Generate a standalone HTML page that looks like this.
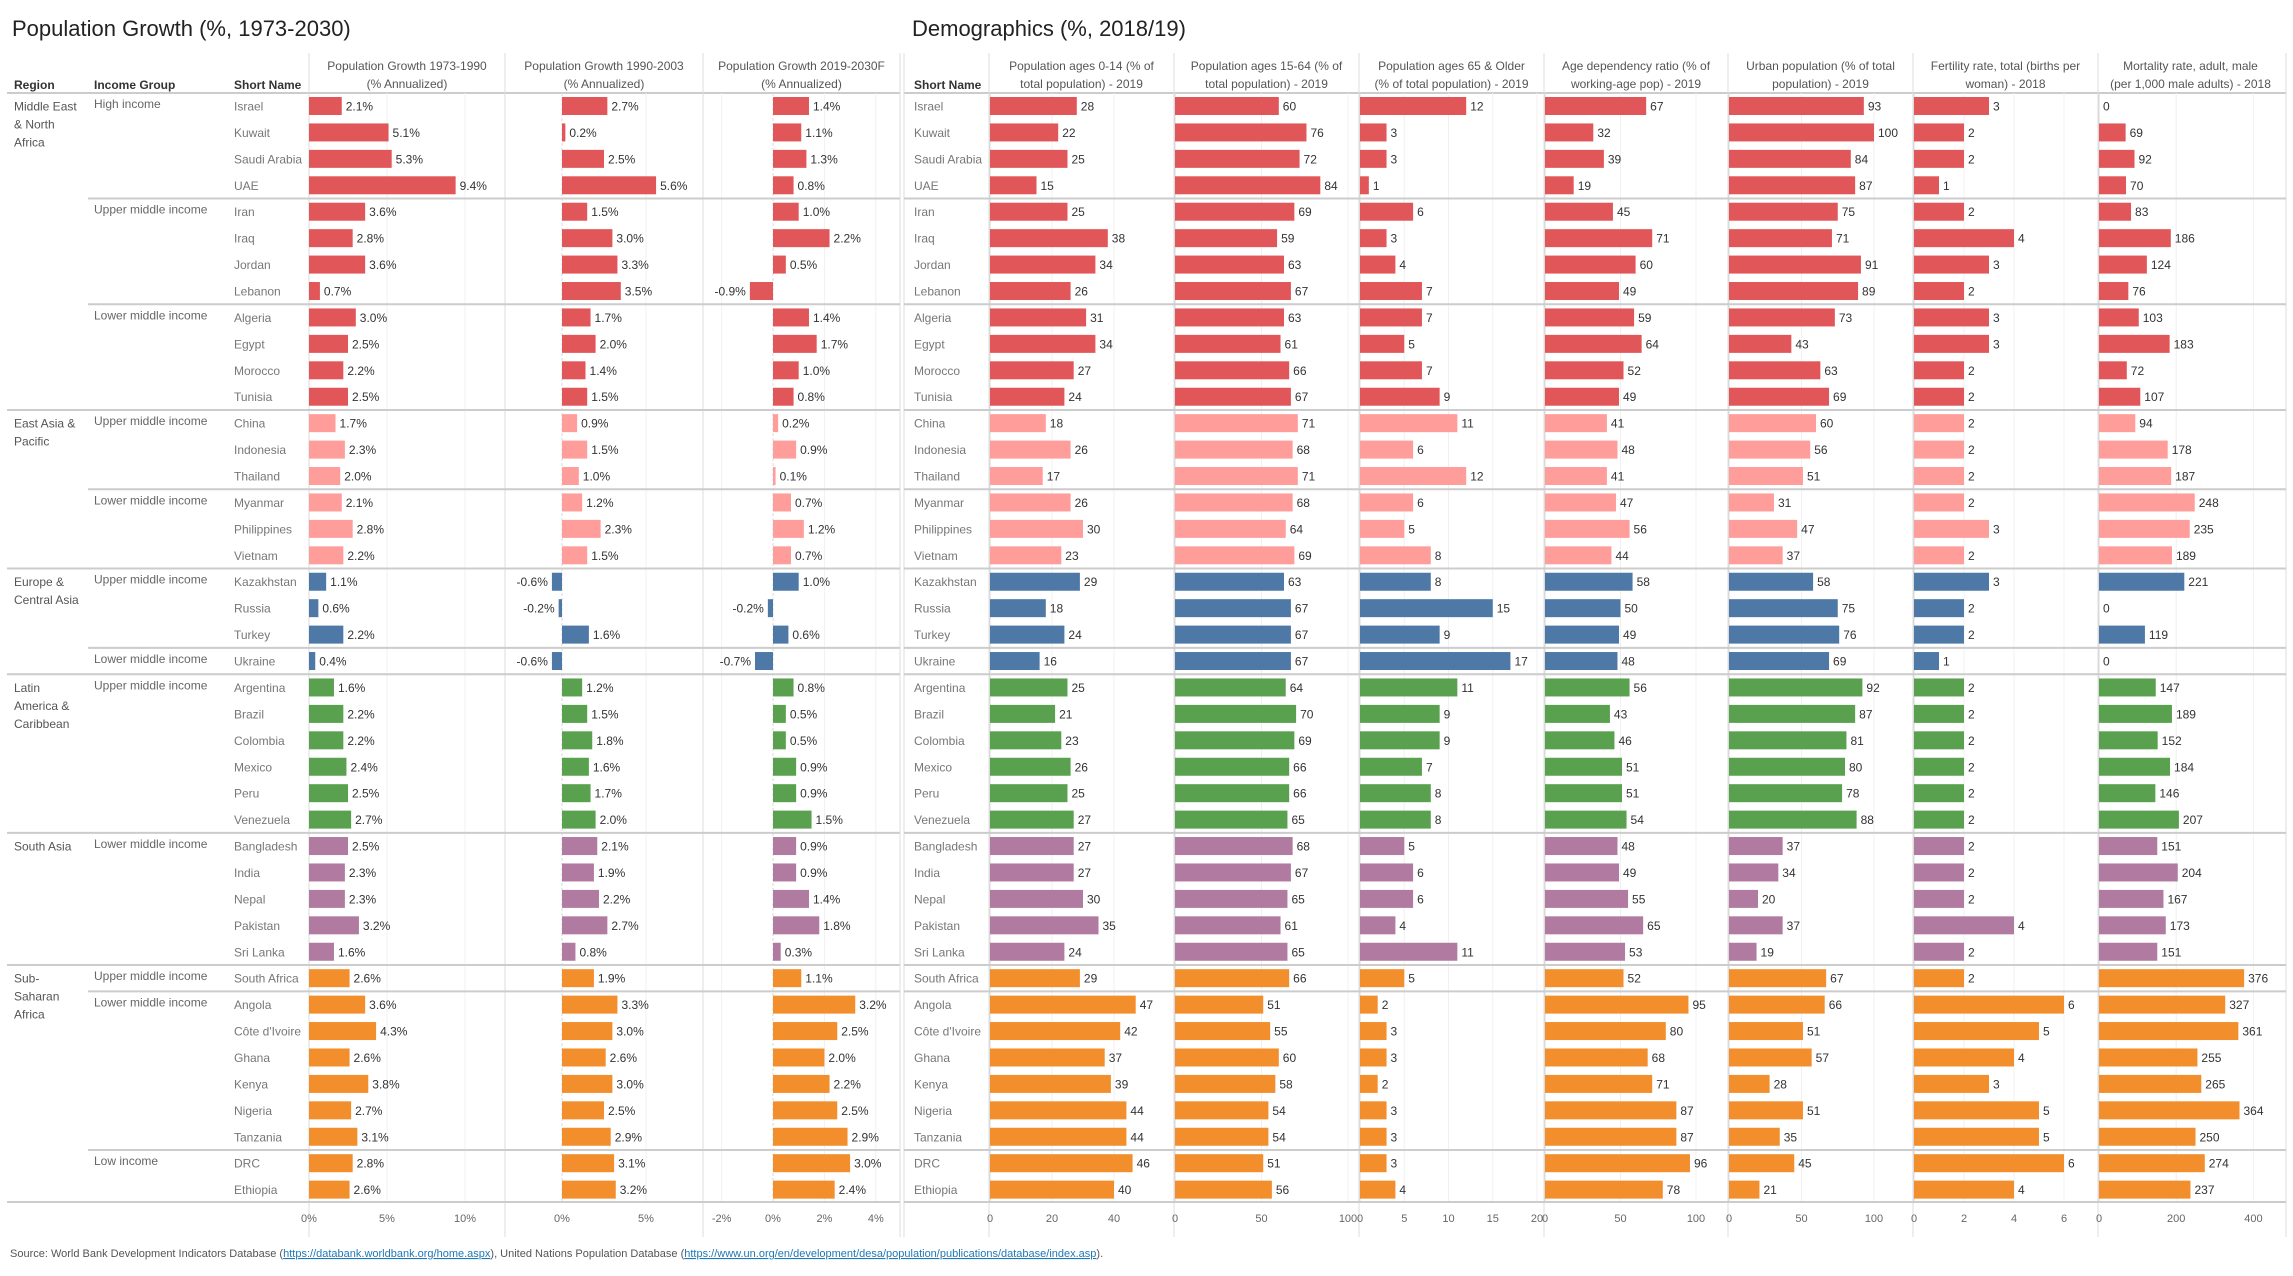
<!DOCTYPE html>
<html><head><meta charset="utf-8">
<style>
body{margin:0;background:#fff;font-family:"Liberation Sans",sans-serif;}
svg{display:block}
</style></head>
<body>
<svg id="c" width="2293" height="1276" xmlns="http://www.w3.org/2000/svg" font-family="Liberation Sans, sans-serif">
<text x="12" y="36" font-size="22" fill="#222">Population Growth (%, 1973-2030)</text>
<text x="912" y="36" font-size="22" fill="#222">Demographics (%, 2018/19)</text>
<text x="10" y="1257" font-size="11" fill="#555">Source: World Bank Development Indicators Database (<tspan fill="#1f77b4" text-decoration="underline">https://databank.worldbank.org/home.aspx</tspan>), United Nations Population Database (<tspan fill="#1f77b4" text-decoration="underline">https://www.un.org/en/development/desa/population/publications/database/index.asp</tspan>).</text>
</svg>
<script>
const countries=["Israel","Kuwait","Saudi Arabia","UAE","Iran","Iraq","Jordan","Lebanon","Algeria","Egypt","Morocco","Tunisia","China","Indonesia","Thailand","Myanmar","Philippines","Vietnam","Kazakhstan","Russia","Turkey","Ukraine","Argentina","Brazil","Colombia","Mexico","Peru","Venezuela","Bangladesh","India","Nepal","Pakistan","Sri Lanka","South Africa","Angola","Côte d'Ivoire","Ghana","Kenya","Nigeria","Tanzania","DRC","Ethiopia"];
const regions=[["Middle East","& North","Africa"],["East Asia &","Pacific"],["Europe &","Central Asia"],["Latin","America &","Caribbean"],["South Asia"],["Sub-","Saharan","Africa"]];
const regionStart=[0,12,18,22,28,33];
const regionColors=["#e15759","#ff9d9a","#4e79a7","#59a14f","#b07aa1","#f28e2b"];
const incomeGroups=["High income","Upper middle income","Lower middle income","Upper middle income","Lower middle income","Upper middle income","Lower middle income","Upper middle income","Lower middle income","Upper middle income","Lower middle income","Low income"];
const incomeStart=[0,4,8,12,15,18,21,22,28,33,34,40];
const growth7390=[2.1,5.1,5.3,9.4,3.6,2.8,3.6,0.7,3.0,2.5,2.2,2.5,1.7,2.3,2.0,2.1,2.8,2.2,1.1,0.6,2.2,0.4,1.6,2.2,2.2,2.4,2.5,2.7,2.5,2.3,2.3,3.2,1.6,2.6,3.6,4.3,2.6,3.8,2.7,3.1,2.8,2.6];
const growth9003=[2.7,0.2,2.5,5.6,1.5,3.0,3.3,3.5,1.7,2.0,1.4,1.5,0.9,1.5,1.0,1.2,2.3,1.5,-0.6,-0.2,1.6,-0.6,1.2,1.5,1.8,1.6,1.7,2.0,2.1,1.9,2.2,2.7,0.8,1.9,3.3,3.0,2.6,3.0,2.5,2.9,3.1,3.2];
const growth1930=[1.4,1.1,1.3,0.8,1.0,2.2,0.5,-0.9,1.4,1.7,1.0,0.8,0.2,0.9,0.1,0.7,1.2,0.7,1.0,-0.2,0.6,-0.7,0.8,0.5,0.5,0.9,0.9,1.5,0.9,0.9,1.4,1.8,0.3,1.1,3.2,2.5,2.0,2.2,2.5,2.9,3.0,2.4];
const pop014=[28,22,25,15,25,38,34,26,31,34,27,24,18,26,17,26,30,23,29,18,24,16,25,21,23,26,25,27,27,27,30,35,24,29,47,42,37,39,44,44,46,40];
const pop1564=[60,76,72,84,69,59,63,67,63,61,66,67,71,68,71,68,64,69,63,67,67,67,64,70,69,66,66,65,68,67,65,61,65,66,51,55,60,58,54,54,51,56];
const pop65=[12,3,3,1,6,3,4,7,7,5,7,9,11,6,12,6,5,8,8,15,9,17,11,9,9,7,8,8,5,6,6,4,11,5,2,3,3,2,3,3,3,4];
const ageDep=[67,32,39,19,45,71,60,49,59,64,52,49,41,48,41,47,56,44,58,50,49,48,56,43,46,51,51,54,48,49,55,65,53,52,95,80,68,71,87,87,96,78];
const urban=[93,100,84,87,75,71,91,89,73,43,63,69,60,56,51,31,47,37,58,75,76,69,92,87,81,80,78,88,37,34,20,37,19,67,66,51,57,28,51,35,45,21];
const fertility=[3,2,2,1,2,4,3,2,3,3,2,2,2,2,2,2,3,2,3,2,2,1,2,2,2,2,2,2,2,2,2,4,2,2,6,5,4,3,5,5,6,4];
const mortality=[0,69,92,70,83,186,124,76,103,183,72,107,94,178,187,248,235,189,221,0,119,0,147,189,152,184,146,207,151,204,167,173,151,376,327,361,255,265,364,250,274,237];
const ticks1=[0,5,10],ticks2=[0,5],ticks3=[-2,0,2,4],ticksA=[0,20,40],ticksB=[0,50,100],ticksC=[0,5,10,15,20],ticksD=[0,50,100],ticksE=[0,50,100],ticksF=[0,2,4,6],ticksG=[0,200,400];

const svg=document.getElementById('c');const NS="http://www.w3.org/2000/svg";
function el(t,a,txt){const e=document.createElementNS(NS,t);for(const k in a)e.setAttribute(k,a[k]);if(txt!==undefined)e.textContent=txt;svg.appendChild(e);return e;}
const ROW0=106,ROWH=26.43,BARH=18,TOP=53,HLINE=93,BOTTOM=1202,AXY=1222,END=1237;
function rowY(i){return ROW0+i*ROWH;}
function colorOf(i){let r=0;for(let k=0;k<regionStart.length;k++)if(i>=regionStart[k])r=k;return regionColors[r];}
const panels=[
 {name:"growth-1973-1990",x0:309,left:309,right:505,scale:15.6,data:growth7390,ticks:ticks1,pct:true,h:["Population Growth 1973-1990","(% Annualized)"]},
 {name:"growth-1990-2003",x0:562,left:505,right:703,scale:16.8,data:growth9003,ticks:ticks2,pct:true,h:["Population Growth 1990-2003","(% Annualized)"]},
 {name:"growth-2019-2030",x0:773,left:703,right:900,scale:25.7,data:growth1930,ticks:ticks3,pct:true,h:["Population Growth 2019-2030F","(% Annualized)"]},
 {name:"pop-0-14",x0:990,left:989,right:1174,scale:3.1,data:pop014,ticks:ticksA,h:["Population ages 0-14 (% of","total population) - 2019"]},
 {name:"pop-15-64",x0:1175,left:1174,right:1359,scale:1.73,data:pop1564,ticks:ticksB,h:["Population ages 15-64 (% of","total population) - 2019"]},
 {name:"pop-65-older",x0:1360,left:1359,right:1544,scale:8.85,data:pop65,ticks:ticksC,h:["Population ages 65 & Older","(% of total population) - 2019"]},
 {name:"age-dependency",x0:1545,left:1544,right:1728,scale:1.51,data:ageDep,ticks:ticksD,h:["Age dependency ratio (% of","working-age pop) - 2019"]},
 {name:"urban-population",x0:1729,left:1728,right:1913,scale:1.45,data:urban,ticks:ticksE,h:["Urban population (% of total","population) - 2019"]},
 {name:"fertility-rate",x0:1914,left:1913,right:2098,scale:25,data:fertility,ticks:ticksF,h:["Fertility rate, total (births per","woman) - 2018"]},
 {name:"mortality-rate",x0:2099,left:2098,right:2283,scale:0.386,data:mortality,ticks:ticksG,h:["Mortality rate, adult, male","(per 1,000 male adults) - 2018"]}
];
el('text',{x:14,y:89,'font-size':12,'font-weight':'bold',fill:'#333',},'Region');
el('text',{x:94,y:89,'font-size':12,'font-weight':'bold',fill:'#333',},'Income Group');
el('text',{x:234,y:89,'font-size':12,'font-weight':'bold',fill:'#333',},'Short Name');
el('text',{x:914,y:89,'font-size':12,'font-weight':'bold',fill:'#333',},'Short Name');
el('line',{x1:7,x2:900,y1:HLINE,y2:HLINE,stroke:'#ccc','stroke-width':2});
el('line',{x1:904,x2:2286,y1:HLINE,y2:HLINE,stroke:'#ccc','stroke-width':2});
panels.forEach(p=>{
  el('line',{x1:p.left,x2:p.left,y1:TOP,y2:END,stroke:'#ddd','stroke-width':1});
  p.ticks.forEach(t=>{const x=p.x0+t*p.scale;
    el('line',{x1:x,x2:x,y1:HLINE,y2:BOTTOM,stroke:t===0?'#d8d8d8':'#f0f0f0','stroke-width':1,'stroke-dasharray':t===0&&p.pct?'3,2':'none'});
    const tt=el('text',{x:x,y:AXY,'font-size':11,fill:'#666','text-anchor':'middle'},t+(p.pct?'%':''));
    
    
  });
  const cx=(p.left+p.right)/2;
  p.h.forEach((l,k)=>{const h=el('text',{x:cx,y:70+k*18,'font-size':12,fill:'#555','text-anchor':'middle'},l);
    
    });
  p.data.forEach((v,i)=>{
    const y=rowY(i);const w=Math.abs(v)*p.scale;const x=v>=0?p.x0:p.x0-w;
    if(v!==0){
      const r=el('rect',{x:x,y:y-BARH/2,width:Math.max(w,1.5),height:BARH,fill:colorOf(i)});
      
      
    }
    const lbl=p.pct?v.toFixed(1)+'%':String(v);
    const t=el('text',{x:v>=0?p.x0+w+4:x-4,y:y+4.5,'font-size':12,fill:'#333','text-anchor':v>=0?'start':'end'},lbl);
    
    
  });
});
el('line',{x1:900,x2:900,y1:TOP,y2:END,stroke:'#ddd'});
el('line',{x1:904,x2:904,y1:TOP,y2:END,stroke:'#ddd'});
el('line',{x1:2286,x2:2286,y1:TOP,y2:END,stroke:'#ddd'});
countries.forEach((c,i)=>{const y=rowY(i)+4.5;
  const a=el('text',{x:234,y:y,'font-size':12,fill:'#777'},c);
  
  
  const b=el('text',{x:914,y:y,'font-size':12,fill:'#777'},c);
  
  
});
regions.forEach((r,k)=>{const y0=rowY(regionStart[k])+4.5;
  r.forEach((l,j)=>{const t=el('text',{x:14,y:y0+j*18,'font-size':12,fill:'#555'},l);
    
    });
  if(k>0){const ly=rowY(regionStart[k])-ROWH/2;
    el('line',{x1:7,x2:900,y1:ly,y2:ly,stroke:'#ccc','stroke-width':2});
    el('line',{x1:904,x2:2286,y1:ly,y2:ly,stroke:'#ccc','stroke-width':2});}
});
incomeGroups.forEach((g,k)=>{const t=el('text',{x:94,y:rowY(incomeStart[k])+2,'font-size':12,fill:'#666'},g);
  
  
  if(k>0&&!regionStart.includes(incomeStart[k])){const ly=rowY(incomeStart[k])-ROWH/2;
    el('line',{x1:88,x2:900,y1:ly,y2:ly,stroke:'#ccc','stroke-width':2});
    el('line',{x1:904,x2:2286,y1:ly,y2:ly,stroke:'#ccc','stroke-width':2});}
});
el('line',{x1:7,x2:900,y1:BOTTOM,y2:BOTTOM,stroke:'#ccc','stroke-width':2});
el('line',{x1:904,x2:2286,y1:BOTTOM,y2:BOTTOM,stroke:'#ccc','stroke-width':2});
</script>
</body></html>
